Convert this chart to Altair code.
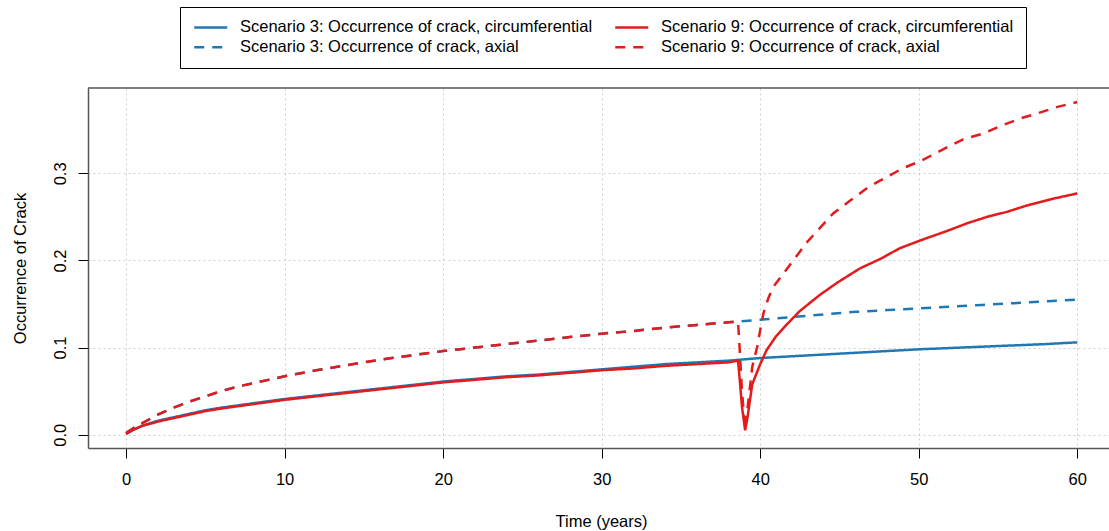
import altair as alt
import pandas as pd

# ---- data ----
s3_circ_t = [0, 0.5, 1, 2, 3, 4, 5, 6, 8, 10, 12, 14, 16, 18, 20, 22, 24, 26, 28, 30,
             32, 34, 36, 38, 40, 42, 44, 46, 48, 50, 52, 54, 56, 58, 60]
s3_circ_v = [0.001, 0.006, 0.010, 0.016, 0.020, 0.024, 0.028, 0.031, 0.036, 0.041, 0.045,
             0.049, 0.053, 0.057, 0.061, 0.064, 0.067, 0.069, 0.072, 0.075, 0.078, 0.081,
             0.083, 0.085, 0.088, 0.090, 0.092, 0.094, 0.096, 0.098, 0.0995, 0.101, 0.1025,
             0.104, 0.106]

s3_axial_t = [0, 0.5, 1, 1.5, 2, 3, 4, 5, 6, 7, 8, 10, 12, 14, 16, 18, 20, 22, 24, 26, 28,
              30, 32, 34, 36, 38, 40, 42, 44, 46, 48, 50, 52, 54, 56, 58, 60]
s3_axial_v = [0.002, 0.008, 0.013, 0.018, 0.023, 0.031, 0.038, 0.044, 0.050, 0.055, 0.059,
              0.067, 0.074, 0.080, 0.086, 0.091, 0.096, 0.100, 0.104, 0.108, 0.112, 0.116,
              0.119, 0.123, 0.126, 0.129, 0.132, 0.135, 0.138, 0.141, 0.143, 0.145, 0.147,
              0.149, 0.151, 0.153, 0.155]

s9_circ_t = [0, 0.5, 1, 2, 3, 4, 5, 6, 8, 10, 12, 14, 16, 18, 20, 22, 24, 26, 28, 30, 32,
             34, 36, 38, 38.6, 38.7, 38.85, 39.05, 39.2, 39.5, 40.0, 40.4, 41.0, 41.7, 42.5,
             43.8, 44.9, 46.3, 47.6, 48.8, 50.1, 51.8, 53.1, 54.3, 55.6, 56.8, 58.5, 60]
s9_circ_v = [0.001, 0.006, 0.010, 0.015, 0.019, 0.023, 0.027, 0.030, 0.035, 0.040, 0.044,
             0.048, 0.052, 0.056, 0.060, 0.063, 0.066, 0.068, 0.071, 0.074, 0.076, 0.079,
             0.081, 0.083, 0.085, 0.065, 0.032, 0.005, 0.020, 0.058, 0.081, 0.097, 0.113,
             0.127, 0.142, 0.161, 0.175, 0.191, 0.202, 0.214, 0.223, 0.234, 0.243, 0.250,
             0.256, 0.263, 0.271, 0.277]

s9_axial_t = [0, 0.5, 1, 1.5, 2, 3, 4, 5, 6, 7, 8, 10, 12, 14, 16, 18, 20, 22, 24, 26, 28,
              30, 32, 34, 36, 38, 38.6, 38.7, 38.85, 39.05, 39.2, 39.5, 39.8, 40.0, 40.2,
              40.5, 40.8, 42.0, 43.0, 43.8, 44.6, 45.7, 46.8, 48.0, 49.0, 50.1, 51.8, 52.8,
              54.1, 55.1, 56.4, 57.5, 58.7, 60]
s9_axial_v = [0.002, 0.008, 0.013, 0.018, 0.023, 0.031, 0.038, 0.044, 0.050, 0.055, 0.059,
              0.067, 0.074, 0.080, 0.086, 0.091, 0.096, 0.100, 0.104, 0.108, 0.112, 0.116,
              0.119, 0.123, 0.126, 0.129, 0.130, 0.100, 0.050, 0.006, 0.030, 0.078, 0.100,
              0.120, 0.139, 0.156, 0.169, 0.198, 0.222, 0.238, 0.254, 0.269, 0.284, 0.296,
              0.306, 0.314, 0.330, 0.339, 0.346, 0.354, 0.363, 0.369, 0.376, 0.382]

names = [
    "Scenario 3: Occurrence of crack, circumferential",
    "Scenario 3: Occurrence of crack, axial",
    "Scenario 9: Occurrence of crack, circumferential",
    "Scenario 9: Occurrence of crack, axial",
]
colors = ["#1f78b4", "#1f78b4", "#e41a1c", "#e41a1c"]
dashes = [[1, 0], [10, 8], [1, 0], [10, 8]]

x_ticks = [0, 10, 20, 30, 40, 50, 60]
y_ticks = [0.0, 0.1, 0.2, 0.3]

frames = []
for name, t, v in [(names[0], s3_circ_t, s3_circ_v), (names[1], s3_axial_t, s3_axial_v),
                   (names[2], s9_circ_t, s9_circ_v), (names[3], s9_axial_t, s9_axial_v)]:
    frames.append(pd.DataFrame({"t": t, "v": v, "series": name}))
df = pd.concat(frames, ignore_index=True)

W, H = 1021, 360
FONT = "Liberation Sans"

color_scale = alt.Scale(domain=names, range=colors)
dash_scale = alt.Scale(domain=names, range=dashes)

legend = alt.Legend(
    title=None, orient="none", legendX=92, legendY=-81, columns=2,
    symbolType="M-3,0H3", symbolSize=121, symbolStrokeWidth=2.5, symbolOffset=10.5,
    labelFontSize=16.5, labelFont=FONT, labelColor="#000", labelLimit=600,
    labelOffset=21, columnPadding=17, rowPadding=3,
    padding=12, strokeColor="#000", fillColor="#fff",
)

base = alt.Chart(df).encode(
    x=alt.X("t:Q", scale=alt.Scale(domain=[-2.4, 62.0], nice=False, zero=False),
            axis=alt.Axis(values=x_ticks, format="d", title="Time (years)",
                          tickSize=10, labelPadding=13, labelFontSize=16.5,
                          titleX=513, titleY=78, titleBaseline="alphabetic",
                          titleAlign="center", titleAnchor="start")),
    y=alt.Y("v:Q", scale=alt.Scale(domain=[-0.0153, 0.398], nice=False, zero=False),
            axis=alt.Axis(values=y_ticks, format=".1f", title="Occurrence of Crack",
                          tickSize=10, labelAngle=270, labelAlign="center",
                          labelBaseline="alphabetic", labelPadding=13, labelFontSize=16.5,
                          titleAngle=270, titleX=-63, titleY=180, titleBaseline="alphabetic",
                          titleAlign="center", titleAnchor="start")),
    color=alt.Color("series:N", scale=color_scale, legend=legend),
    strokeDash=alt.StrokeDash("series:N", scale=dash_scale, legend=legend),
    detail="series:N",
)

blue = base.transform_filter(
    alt.FieldOneOfPredicate(field="series", oneOf=[names[0], names[1]])
).mark_line(strokeWidth=2.5, interpolate="linear")
red = base.transform_filter(
    alt.FieldOneOfPredicate(field="series", oneOf=[names[2], names[3]])
).mark_line(strokeWidth=2.5, interpolate="linear")

top_border = alt.Chart(alt.Data(values=[{"k": 1}])).mark_rule(
    color="#555", strokeWidth=1.5
).encode(y=alt.value(0), x=alt.value(0), x2=alt.value(W))

chart = alt.layer(blue, red, top_border).properties(
    width=W, height=H,
    autosize=alt.AutoSizeParams(type="none"),
    padding={"left": 88, "top": 88, "right": 0, "bottom": 83},
    background="white",
).configure_view(stroke=None).configure_axis(
    labelFont=FONT, titleFont=FONT, titleFontSize=16.5, titleFontWeight="normal",
    labelColor="#000", titleColor="#000", tickColor="#000",
    domainColor="#555", domainWidth=1.5,
    gridColor="#cfcfcf", gridDash=[2, 3], gridWidth=1,
).configure_legend(labelFont=FONT)

chart.save("out.html", embed_options={"renderer": "svg", "actions": False})
